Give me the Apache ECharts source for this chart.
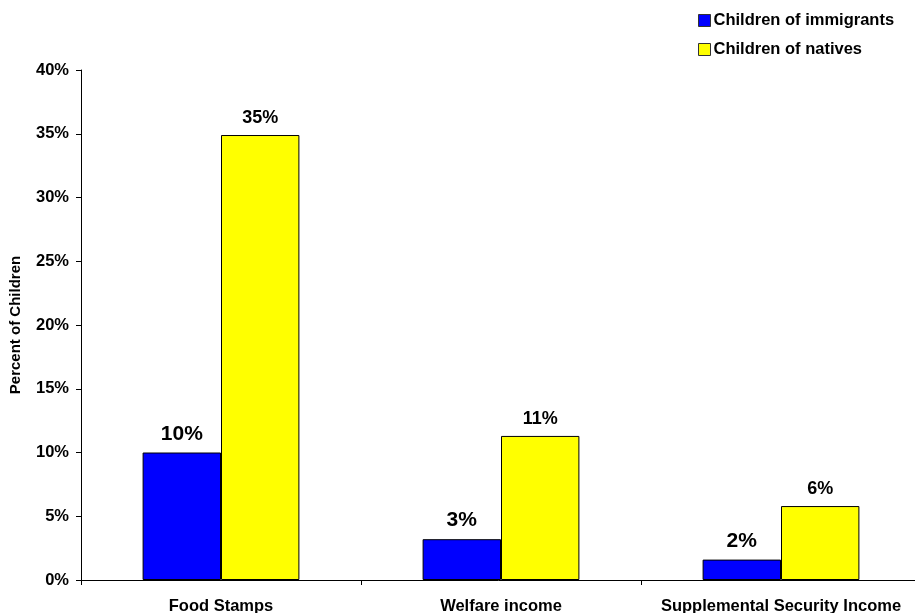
<!DOCTYPE html>
<html><head><meta charset="utf-8">
<script src="https://cdn.jsdelivr.net/npm/echarts@6/dist/echarts.min.js"></script>
<style>html,body{margin:0;padding:0;background:#fff}#c{width:915px;height:613px}</style>
</head><body><div id="c"></div>
<script>
var categories = ['Food Stamps', 'Welfare income', 'Supplemental Security Income'];
var immigrants = [10.0, 3.2, 1.6];
var natives = [34.9, 11.3, 5.8];
var yTicks = [0, 5, 10, 15, 20, 25, 30, 35, 40];
var seriesNames = ['Children of immigrants', 'Children of natives'];

var font = '"Liberation Sans", Arial, sans-serif';
var chart = echarts.init(document.getElementById('c'));
chart.setOption({
  animation: false,
  textStyle: {fontFamily: font},
  legend: {
    orient: 'vertical', left: 693, top: 7, itemGap: 12,
    itemWidth: 12, itemHeight: 12, icon: 'rect',
    itemStyle: {borderColor: '#333', borderWidth: 1},
    textStyle: {fontFamily: font, fontWeight: 'bold', fontSize: 16.5, color: '#000', padding: [0,0,0,-2]},
    data: seriesNames
  },
  grid: {left: 81, top: 70, bottom: 33, right: -6, containLabel: false, outerBoundsMode: 'none'},
  xAxis: {
    type: 'category', data: categories,
    axisLine: {lineStyle: {color: '#000', width: 1}},
    axisTick: {show: true, length: 5, alignWithLabel: false, lineStyle: {color: '#000'}},
    axisLabel: {fontFamily: font, fontWeight: 'bold', fontSize: 16.5, color: '#000', margin: 18, interval: 0}
  },
  yAxis: {
    type: 'value', min: yTicks[0], max: yTicks[yTicks.length-1], interval: 5,
    name: 'Percent of Children', nameLocation: 'middle', nameGap: 58, nameRotate: 90,
    nameTextStyle: {fontFamily: font, fontWeight: 'bold', fontSize: 15, color: '#000'},
    axisLine: {show: true, lineStyle: {color: '#000'}},
    axisTick: {show: true, length: 5, lineStyle: {color: '#000'}},
    splitLine: {show: false},
    axisLabel: {fontFamily: font, fontWeight: 'bold', fontSize: 16.5, color: '#000', margin: 12,
      formatter: function(v){return v + '%';}}
  },
  series: [
    {name: seriesNames[0], type: 'bar', data: immigrants, barGap: '0%', barCategoryGap: '44%',
     itemStyle: {color: '#0000FF', borderColor: '#000', borderWidth: 1},
     label: {show: true, position: 'top', distance: 8, fontFamily: font, fontWeight: 'bold', fontSize: 21, color: '#000',
       formatter: function(p){return Math.round(p.value) + '%';}}},
    {name: seriesNames[1], type: 'bar', data: natives, barGap: '0%', barCategoryGap: '44%',
     itemStyle: {color: '#FFFF00', borderColor: '#000', borderWidth: 1},
     label: {show: true, position: 'top', distance: 8, fontFamily: font, fontWeight: 'bold', fontSize: 18, color: '#000',
       formatter: function(p){return Math.round(p.value) + '%';}}}
  ]
});
</script></body></html>
